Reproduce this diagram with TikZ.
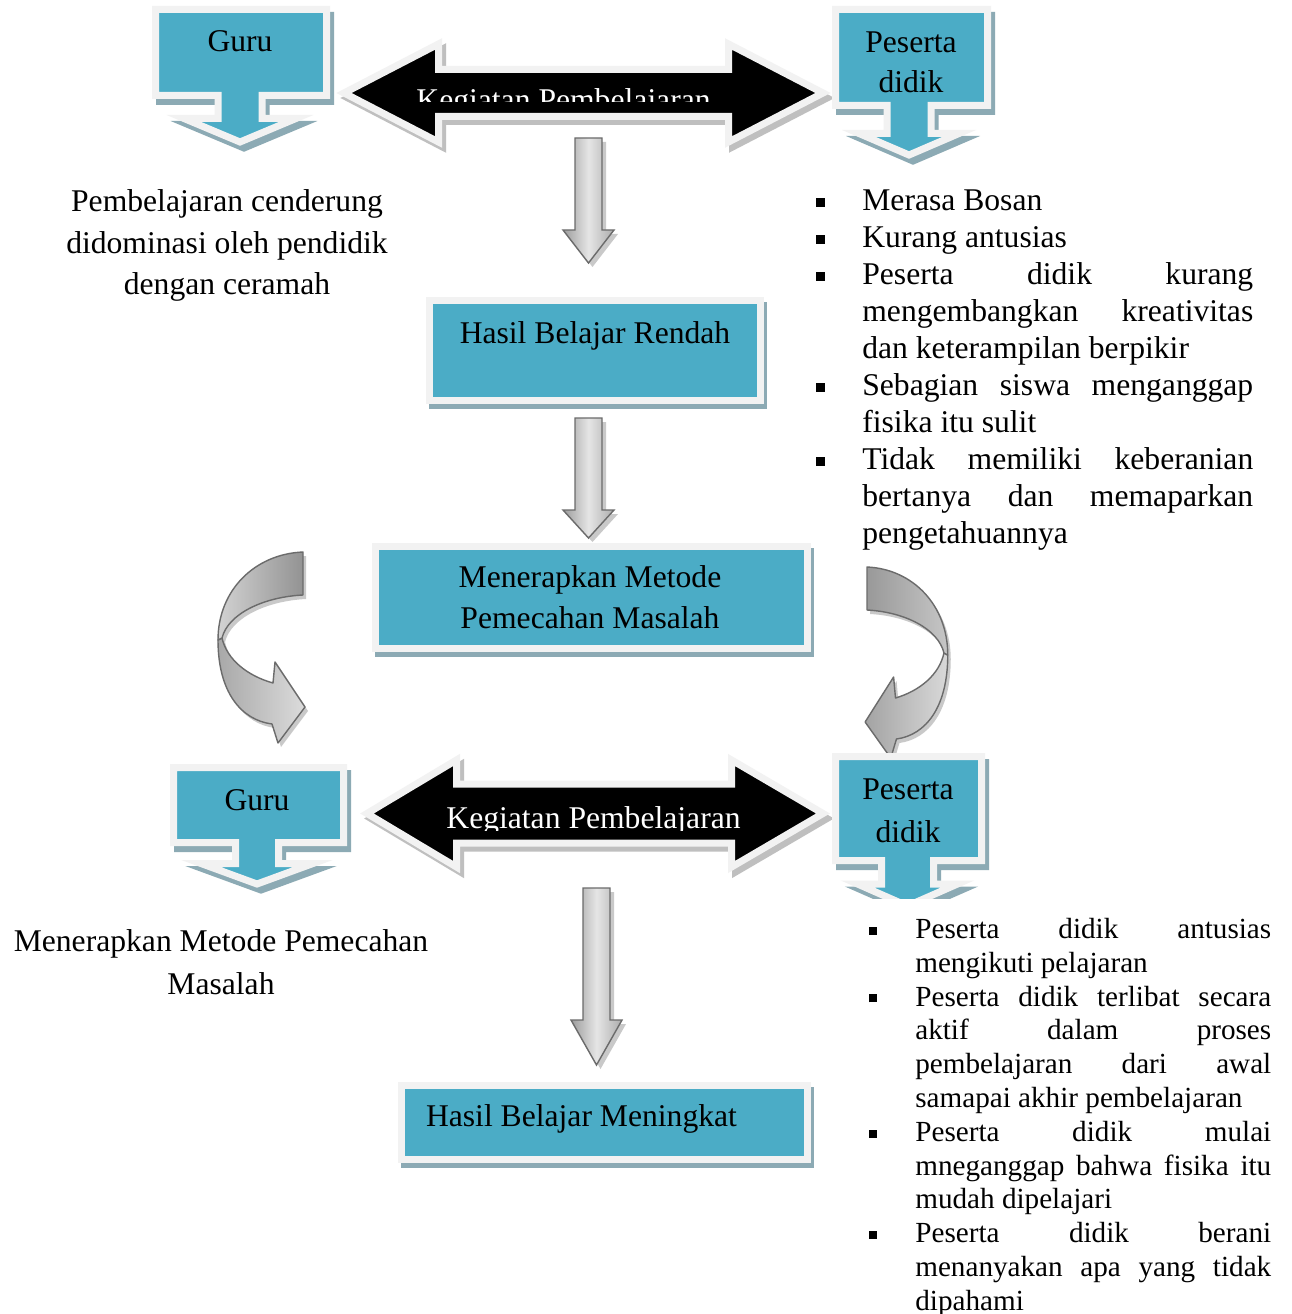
\documentclass[tikz,border=0pt]{standalone}
\usepackage{fontspec}
\setmainfont{Liberation Serif}
\usetikzlibrary{shapes, arrows, positioning, calc}

\definecolor{tealfill}{HTML}{4BACC6}
\definecolor{rimgray}{HTML}{F2F2F2}
\definecolor{tealshadow}{HTML}{8CAAB4}
\definecolor{blackshadow}{HTML}{BFBFBF}
\definecolor{arrowshadow}{HTML}{C9C9C9}
\definecolor{arrowedge}{HTML}{6B6B6B}

% block shapes: left, top, right, bottom, stem x, stem half, head top, head half, tip
\newcommand{\calloutpath}[9]{(#1,#2) -- (#3,#2) -- (#3,#4) -- (#5+#6,#4) -- (#5+#6,#7) -- (#5+#8,#7) -- (#5,#9) -- (#5-#8,#7) -- (#5-#6,#7) -- (#5-#6,#4) -- (#1,#4) -- cycle}
\newcommand{\twinarrowpath}[7]{(#1,#3) -- (#4,#3-#6) -- (#4,#3-#7) -- (#5,#3-#7) -- (#5,#3-#6) -- (#2,#3) -- (#5,#3+#6) -- (#5,#3+#7) -- (#4,#3+#7) -- (#4,#3+#6) -- cycle}
\newcommand{\downarrowpath}[6]{(#1-#2,#4) -- (#1+#2,#4) -- (#1+#2,#5) -- (#1+#3,#5) -- (#1,#6) -- (#1-#3,#5) -- (#1-#2,#5) -- cycle}
\newcommand{\bandtop}{(0,0) .. controls (-48,2) and (-85,38) .. (-85,88) -- (-81,86) .. controls (-75,62) and (-40,45) .. (0,43) -- cycle}
\newcommand{\bandlow}{(-85,88) .. controls (-85,140) and (-62,168) .. (-31,172) -- (-25,191) -- (2,155) -- (-28,110) -- (-30,131) .. controls (-55,124) and (-76,108) .. (-81,86) -- cycle}
\newcommand{\sqitem}{\hangindent=0.92cm\hangafter=1\noindent\makebox[0.92cm][l]{\rule[0.13em]{0.27em}{0.27em}}\ignorespaces}

\begin{document}
\begin{tikzpicture}[x=0.02cm, y=-0.02cm]
    \tikzstyle{callout} = [fill=tealfill, draw=rimgray, line width=0.14cm, line join=miter, preaction={fill=tealshadow, draw=tealshadow, line width=0.14cm, transform canvas={shift={(4,6)}}}]
    \tikzstyle{tealbox} = [rectangle, fill=tealfill, draw=rimgray, line width=0.14cm, inner sep=0pt, preaction={fill=tealshadow, draw=tealshadow, line width=0.14cm, transform canvas={shift={(3,5)}}}]
    \tikzstyle{twinarrow} = [fill=black, draw=rimgray, line width=0.14cm, line join=miter, preaction={fill=blackshadow, draw=blackshadow, line width=0.14cm, transform canvas={shift={(4,5)}}}]
    \tikzstyle{grayarrow} = [draw=arrowedge, line width=0.8pt, left color=gray!78, right color=gray!65, middle color=gray!20, preaction={fill=arrowshadow, transform canvas={shift={(4,4)}}}]
    \tikzstyle{bendband} = [draw=arrowedge, line width=0.8pt, line join=round]
    \tikzstyle{txt} = [font=\fontsize{18}{23.8}\selectfont, inner sep=0pt, align=center, anchor=base]
    \tikzstyle{listA} = [font=\fontsize{18}{21.05}\selectfont, text width=8.74cm, align=justify, inner sep=0pt, anchor=base west]
    \tikzstyle{listB} = [font=\fontsize{16.6}{19.24}\selectfont, text width=8.04cm, align=justify, inner sep=0pt, anchor=base west]

    \useasboundingbox[fill=white] (0,0) rectangle (1291,1314);

    % keadaan awal
    \path[twinarrow] \twinarrowpath{344}{823}{93}{438.5}{728.5}{49}{23.5};
    \begin{scope}
        \clip (400,60) rectangle (740,102);
        \node[txt, text=white] (kegiatanA) at (563.5,111) {Kegiatan Pembelajaran};
    \end{scope}
    \path[callout] \calloutpath{155.5}{9.5}{326.5}{95.5}{240}{22}{118.5}{56}{142};
    \node[txt] (guruA) at (240,52) {Guru};
    \path[callout] \calloutpath{835.5}{9.5}{987.5}{105.5}{909}{22}{133.5}{50}{155};
    \node[txt, font=\fontsize{18}{23.25}\selectfont] (pesertaA) at (911,93) {Peserta\\didik};

    \node[txt] (guruketA) at (227,295) {Pembelajaran cenderung\\didominasi oleh pendidik\\dengan ceramah};
    \node[listA] (pesertaketA) at (816,211) {\sqitem Merasa Bosan\par
        \sqitem Kurang antusias\par
        \sqitem Peserta didik kurang\linebreak mengembangkan kreativitas\linebreak dan keterampilan berpikir\par
        \sqitem Sebagian siswa menganggap\linebreak fisika itu sulit\par
        \sqitem Tidak memiliki keberanian\linebreak bertanya dan memaparkan\linebreak pengetahuannya\par};

    \path[grayarrow] \downarrowpath{588.5}{13.5}{25.5}{138}{230}{263};
    \node[tealbox, minimum width=6.62cm, minimum height=2cm] (rendah) at (595,350.5) {};
    \node[txt] (rendahtxt) at (595,343) {Hasil Belajar Rendah};

    \path[grayarrow] \downarrowpath{588.5}{13.5}{25.5}{418}{510}{538};
    \node[tealbox, minimum width=8.64cm, minimum height=2.04cm] (metode) at (591.5,597.5) {};
    \node[txt, font=\fontsize{18}{23.25}\selectfont] (metodetxt) at (590,628) {Menerapkan Metode\\Pemecahan Masalah};

    % panah lengkung
    \begin{scope}[shift={(303,552)}]
        \fill[arrowshadow, transform canvas={shift={(3,4)}}] \bandtop;
        \fill[arrowshadow, transform canvas={shift={(3,4)}}] \bandlow;
        \path[bendband, left color=gray!68, right color=gray!28] \bandlow;
        \path[bendband, left color=gray!35, right color=gray!85] \bandtop;
    \end{scope}
    \begin{scope}[shift={(867,567)}, xscale=-0.95]
        \fill[arrowshadow, transform canvas={shift={(3,4)}}] \bandtop;
        \fill[arrowshadow, transform canvas={shift={(3,4)}}] \bandlow;
        \path[bendband, left color=gray!72, right color=gray!30] \bandlow;
        \path[bendband, left color=gray!80, right color=gray!45] \bandtop;
    \end{scope}

    % keadaan sesudah
    \path[twinarrow] \twinarrowpath{367}{823}{813.5}{456.5}{731.5}{53.5}{29.5};
    \begin{scope}
        \clip (430,780) rectangle (760,830);
        \node[txt, text=white] (kegiatanB) at (593.5,828) {Kegiatan Pembelajaran};
    \end{scope}
    \path[callout] \calloutpath{173.5}{767.5}{343.5}{842.5}{257}{21.5}{863.5}{56}{884};
    \node[txt] (guruB) at (257,810) {Guru};
    \begin{scope}
        \clip (800,740) rectangle (1010,898);
        \path[callout] \calloutpath{835.5}{756.5}{981.5}{860.5}{907.5}{26}{884}{50}{906};
    \end{scope}
    \node[txt, font=\fontsize{18}{24.4}\selectfont] (pesertaB) at (908,842) {Peserta\\didik};

    \node[txt, font=\fontsize{18}{24.4}\selectfont] (guruketB) at (221,994) {Menerapkan Metode Pemecahan\\Masalah};
    \node[listB] (pesertaketB) at (869,938.5) {\sqitem Peserta didik antusias\linebreak mengikuti pelajaran\par
        \sqitem Peserta didik terlibat secara\linebreak aktif dalam proses\linebreak pembelajaran dari awal\linebreak samapai akhir pembelajaran\par
        \sqitem Peserta didik mulai\linebreak mneganggap bahwa fisika itu\linebreak mudah dipelajari\par
        \sqitem Peserta didik berani\linebreak menanyakan apa yang tidak\linebreak dipahami\par};

    \path[grayarrow] \downarrowpath{596.5}{13.5}{25.5}{888}{1020}{1065};
    \node[tealbox, minimum width=8.12cm, minimum height=1.48cm] (meningkat) at (604.5,1122.5) {};
    \node[txt] (meningkattxt) at (581.5,1126) {Hasil Belajar Meningkat};
\end{tikzpicture}
\end{document}
